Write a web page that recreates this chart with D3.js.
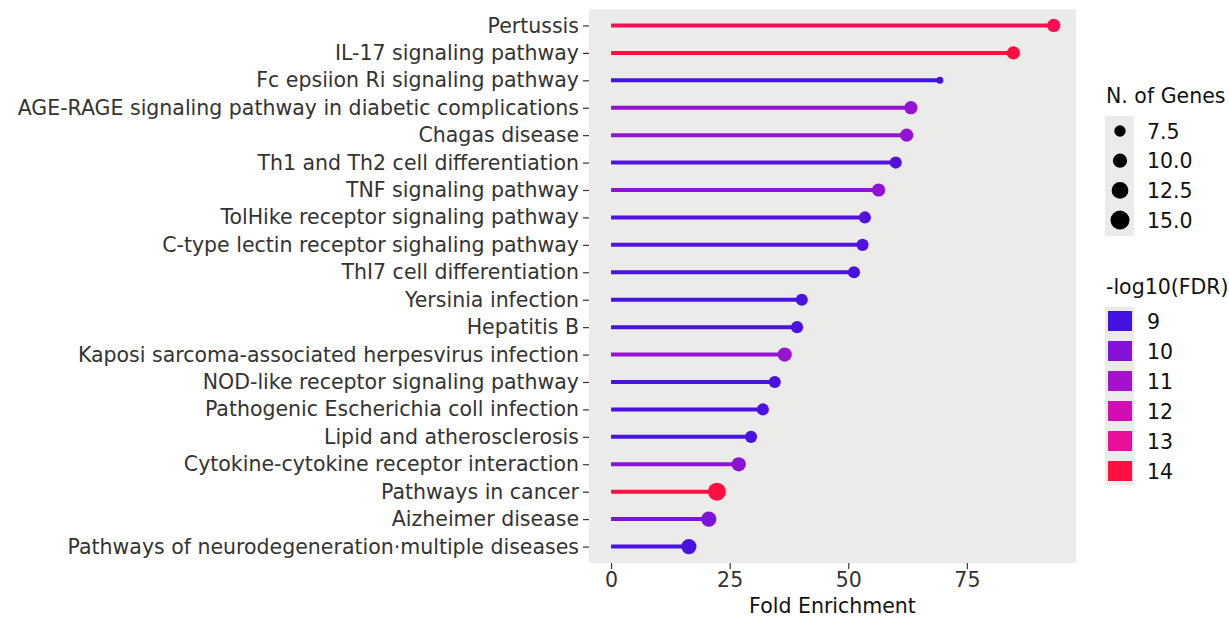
<!DOCTYPE html>
<html><head><meta charset="utf-8">
<script src="https://cdn.jsdelivr.net/npm/d3@7"></script>
<style>body{margin:0;background:#fff;} svg{display:block;font-family:"DejaVu Sans",sans-serif;}</style>
</head><body><svg id="c" width="1229" height="618"></svg>
<script>
const pathways = ["Pertussis","IL-17 signaling pathway","Fc epsiion Ri signaling pathway","AGE-RAGE signaling pathway in diabetic complications","Chagas disease","Th1 and Th2 cell differentiation","TNF signaling pathway","TolHike receptor signaling pathway","C-type lectin receptor sighaling pathway","ThI7 cell differentiation","Yersinia infection","Hepatitis B","Kaposi sarcoma-associated herpesvirus infection","NOD-like receptor signaling pathway","Pathogenic Escherichia coll infection","Lipid and atherosclerosis","Cytokine-cytokine receptor interaction","Pathways in cancer","Aizheimer disease","Pathways of neurodegeneration·multiple diseases"];
const foldEnrichment = [93.3,84.8,69.3,63.2,62.3,60.0,56.4,53.5,53.0,51.2,40.2,39.2,36.6,34.5,32.0,29.5,26.9,22.3,20.6,16.4];
const nGenes = [10,10,5,10,10,9,10,9,9,9,9,9,11,9,9,9,11,15,12,12];
const logFDR = [13.8,14,9,10.5,10.5,9.2,10.4,9.2,9.2,9.1,9.1,9.1,10.6,9.1,9.1,9.1,10.3,14,9.9,9.1];
const xTicks = [0,25,50,75];
const sizeBreaks = [7.5,10.0,12.5,15.0];
const colorBreaks = [9,10,11,12,13,14];

const FS = 20.5;
const svg = d3.select("#c");
const panel = {l:589, r:1076, t:9, b:563};
const x = d3.scaleLinear().domain([-4.65, 98.0]).range([panel.l, panel.r]);
const y = d3.scalePoint().domain(pathways).range([panel.t, panel.b]).padding(0.6);
const color = d3.scaleLinear().domain([9,10,11,12,13,14])
  .range(["#4412e0","#8412d8","#a412cc","#d00eb4","#e8109a","#ff1040"]).clamp(true);
const size = d3.scaleSqrt().domain([5,15]).range([3.5,9]);

svg.append("rect").attr("x",panel.l).attr("y",panel.t).attr("width",panel.r-panel.l).attr("height",panel.b-panel.t).attr("fill","#ebebea");

const data = pathways.map((p,i)=>({p, fe:foldEnrichment[i], n:nGenes[i], c:logFDR[i]}));
svg.append("g").selectAll("line").data(data).join("line")
  .attr("x1",x(0)).attr("x2",d=>x(d.fe)).attr("y1",d=>y(d.p)).attr("y2",d=>y(d.p))
  .attr("stroke",d=>color(d.c)).attr("stroke-width",4);
svg.append("g").selectAll("circle").data(data).join("circle")
  .attr("cx",d=>x(d.fe)).attr("cy",d=>y(d.p)).attr("r",d=>size(d.n)).attr("fill",d=>color(d.c));

const yAxis = svg.append("g").attr("transform",`translate(${panel.l},0)`)
  .call(d3.axisLeft(y).tickSize(6).tickPadding(4));
yAxis.select(".domain").remove();
yAxis.selectAll("line").attr("stroke","#333").attr("stroke-width",1.2);
yAxis.selectAll("text").attr("font-size",FS).attr("fill","#333").attr("font-family","DejaVu Sans");

const xAxis = svg.append("g").attr("transform",`translate(0,${panel.b})`)
  .call(d3.axisBottom(x).tickValues(xTicks).tickSize(6).tickPadding(3));
xAxis.select(".domain").remove();
xAxis.selectAll("line").attr("stroke","#333").attr("stroke-width",1.2);
xAxis.selectAll("text").attr("font-size",FS).attr("fill","#333").attr("font-family","DejaVu Sans");

svg.append("text").attr("x",(panel.l+panel.r)/2).attr("y",613).attr("text-anchor","middle")
  .attr("font-size",FS).attr("fill","#111").text("Fold Enrichment");

// size legend
const lg1 = svg.append("g");
lg1.append("text").attr("x",1106).attr("y",103).attr("font-size",FS).attr("fill","#111").text("N. of Genes");
lg1.append("rect").attr("x",1105).attr("y",116).attr("width",29).attr("height",120).attr("fill","#ebebea");
sizeBreaks.forEach((v,i)=>{
  const cy = 131 + i*29.7;
  lg1.append("circle").attr("cx",1120).attr("cy",cy).attr("r",size(v)+0.5).attr("fill","#000");
  lg1.append("text").attr("x",1147).attr("y",cy+7.5).attr("font-size",FS).attr("fill","#111").text(v.toFixed(1));
});

// color legend
const lg2 = svg.append("g");
lg2.append("text").attr("x",1106).attr("y",294).attr("font-size",FS).attr("fill","#111").text("-log10(FDR)");
lg2.append("rect").attr("x",1105).attr("y",307).attr("width",29).attr("height",178).attr("fill","#ebebea");
colorBreaks.forEach((v,i)=>{
  const cy = 321 + i*30;
  lg2.append("rect").attr("x",1108).attr("y",cy-10).attr("width",24).attr("height",20).attr("fill",color(v));
  lg2.append("text").attr("x",1147).attr("y",cy+7.5).attr("font-size",FS).attr("fill","#111").text(v);
});
</script></body></html>
